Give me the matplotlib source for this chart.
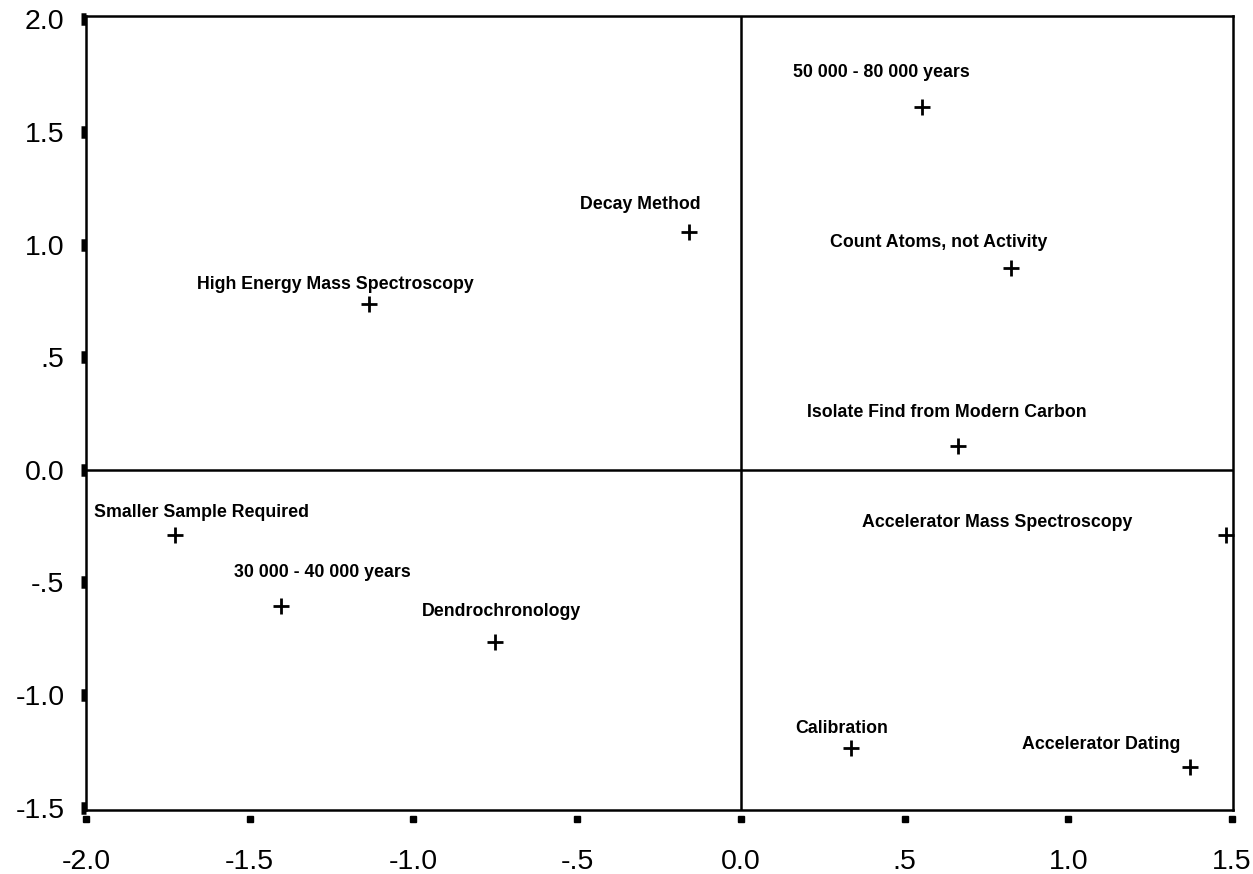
import numpy as np
import matplotlib
matplotlib.use("Agg")
import matplotlib.pyplot as plt

# dimension 1 / dimension 2 coordinates
labels = ["50 000 - 80 000 years", "Decay Method", "Count Atoms, not Activity",
          "High Energy Mass Spectroscopy", "Isolate Find from Modern Carbon",
          "Smaller Sample Required", "Accelerator Mass Spectroscopy",
          "30 000 - 40 000 years", "Dendrochronology", "Calibration",
          "Accelerator Dating"]
dim1 = [0.553, -0.158, 0.825, -1.136, 0.663, -1.728, 1.482, -1.404, -0.751, 0.337, 1.372]
dim2 = [1.611, 1.056, 0.897, 0.737, 0.107, -0.289, -0.289, -0.604, -0.763, -1.234, -1.318]

xticks = [-2.0, -1.5, -1.0, -0.5, 0.0, 0.5, 1.0, 1.5]
xticklabels = ["-2.0", "-1.5", "-1.0", "-.5", "0.0", ".5", "1.0", "1.5"]
yticks = [2.0, 1.5, 1.0, 0.5, 0.0, -0.5, -1.0, -1.5]
yticklabels = ["2.0", "1.5", "1.0", ".5", "0.0", "-.5", "-1.0", "-1.5"]

# label offsets from the marker (points), as placed in the original
offsets = [(-29, 25), (-35, 20), (-52, 18), (-24, 14), (-8, 24), (19, 16),
           (-165, 9), (30, 24), (5, 22), (-7, 14), (-64, 16)]

plt.rcParams['font.family'] = ['Liberation Sans', 'DejaVu Sans']

fig = plt.figure(figsize=(12.53, 8.74), dpi=100)
ax = fig.add_axes([86/1253, 1-810/874, (1233-86)/1253, (810-16)/874])

ax.axhline(0, color='black', lw=1.8, zorder=1)
ax.axvline(0, color='black', lw=1.8, zorder=1)

ax.plot(dim1, dim2, '+', color='black', ms=11, mew=2.0, zorder=3, clip_on=False)
for lab, x, y, off in zip(labels, dim1, dim2, offsets):
    ax.annotate(lab, (x, y), xytext=off, textcoords='offset points',
                ha='center', va='center', fontsize=12.8, fontweight='bold')

ax.set_xlim(-2.0, 1.503)
ax.set_ylim(-1.51, 2.015)

for s in ax.spines.values():
    s.set_linewidth(1.8)

ax.set_xticks(xticks)
ax.set_xticklabels(xticklabels, fontsize=20.5)
ax.set_yticks(yticks)
ax.set_yticklabels(yticklabels, fontsize=20.5)
ax.tick_params(axis='x', length=0, pad=28)
ax.tick_params(axis='y', direction='out', length=3.5, width=9, pad=12)

# square tick marks below the x axis
ax.plot(xticks, [-0.011]*len(xticks), 's', color='black', ms=5,
        transform=ax.get_xaxis_transform(), clip_on=False)

fig.savefig("out.png", dpi=100)
